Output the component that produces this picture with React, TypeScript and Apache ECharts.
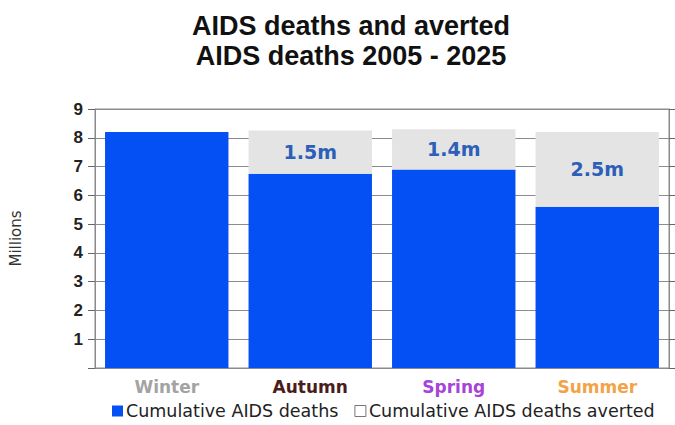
import React, { useEffect, useRef } from "react";
import * as echarts from "echarts";

const categories = ["Winter", "Autumn", "Spring", "Summer"];
const categoryColors = ["#a3a3a3", "#4a1c1c", "#a743d6", "#f3a347"];
const deaths = [8.2, 6.75, 6.9, 5.6];
const averted = [0, 1.5, 1.4, 2.6];
const avertedLabels = ["", "1.5m", "1.4m", "2.5m"];
const yTicks = [0, 1, 2, 3, 4, 5, 6, 7, 8, 9];

export default function App() {
  const ref = useRef<HTMLDivElement>(null);
  useEffect(() => {
    if (!ref.current) return;
    const chart = echarts.init(ref.current, null, { renderer: "svg" });
    const font = "Liberation Sans, Arial, sans-serif";
    const wide = "DejaVu Sans, Verdana, sans-serif";
    chart.setOption({
      animation: false,
      backgroundColor: "#ffffff",
      textStyle: { fontFamily: font },
      title: {
        text: "AIDS deaths and averted\nAIDS deaths 2005 - 2025",
        left: 346,
        textAlign: "center",
        top: 6,
        textStyle: {
          fontSize: 27,
          fontWeight: "bold",
          color: "#111111",
          lineHeight: 30,
          fontFamily: font,
        },
      },
      legend: {
        bottom: 0,
        left: 112,
        width: 600,
        padding: [5, 0, 5, 0],
        itemWidth: 11,
        itemHeight: 11,
        itemGap: 16,
        icon: "rect",
        textStyle: { fontSize: 17.5, color: "#222", fontFamily: wide, padding: [0, 0, 0, -2] },
        data: [
          { name: "Cumulative AIDS deaths", itemStyle: { color: "#0550f5" } },
          {
            name: "Cumulative AIDS deaths averted",
            itemStyle: { color: "#ffffff", borderColor: "#777", borderWidth: 1 },
          },
        ],
      },
      grid: { left: 95, right: 6, top: 109, bottom: 57, show: true, borderColor: "#8a8a8a", borderWidth: 1 },
      xAxis: {
        type: "category",
        data: categories.map((c, i) => ({
          value: c,
          textStyle: { color: categoryColors[i] },
        })),
        axisLine: { lineStyle: { color: "#8a8a8a" } },
        axisTick: { show: false },
        axisLabel: { fontSize: 17, fontWeight: "bold", margin: 10, fontFamily: wide },
      },
      yAxis: [
        {
          type: "value",
          min: yTicks[0],
          max: yTicks[yTicks.length - 1],
          interval: 1,
          name: "Millions",
          nameLocation: "middle",
          nameGap: 72,
          nameTextStyle: { fontSize: 15, color: "#333", fontFamily: wide },
          axisLine: { show: true, lineStyle: { color: "#8a8a8a" } },
          axisTick: { show: true, length: 7, lineStyle: { color: "#666" } },
          axisLabel: {
            fontSize: 17,
            fontWeight: "bold",
            color: "#222",
            margin: 12,
            fontFamily: font,
            formatter: (v: number) => (v === 0 ? "" : String(v)),
          },
          splitLine: { show: true, lineStyle: { color: "#8c8c8c", width: 1 } },
        },
        {
          type: "value",
          position: "right",
          min: yTicks[0],
          max: yTicks[yTicks.length - 1],
          interval: 1,
          axisLine: { show: true, lineStyle: { color: "#8a8a8a" } },
          axisTick: { show: true, length: 6, lineStyle: { color: "#666" } },
          axisLabel: { show: false },
          splitLine: { show: false },
        },
      ],
      series: [
        {
          name: "Cumulative AIDS deaths",
          type: "bar",
          stack: "total",
          data: deaths,
          barCategoryGap: "14%",
          itemStyle: { color: "#0550f5" },
        },
        {
          name: "Cumulative AIDS deaths averted",
          type: "bar",
          stack: "total",
          data: averted,
          itemStyle: { color: "#e4e4e4" },
          label: {
            show: true,
            position: "inside",
            fontSize: 19,
            fontWeight: "bold",
            color: "#2c5fb8",
            fontFamily: wide,
            formatter: (p: any) => avertedLabels[p.dataIndex],
          },
        },
      ],
    });
    return () => chart.dispose();
  }, []);
  return <div ref={ref} style={{ width: 675, height: 425, position: "absolute", left: 0, top: 0 }} />;
}
